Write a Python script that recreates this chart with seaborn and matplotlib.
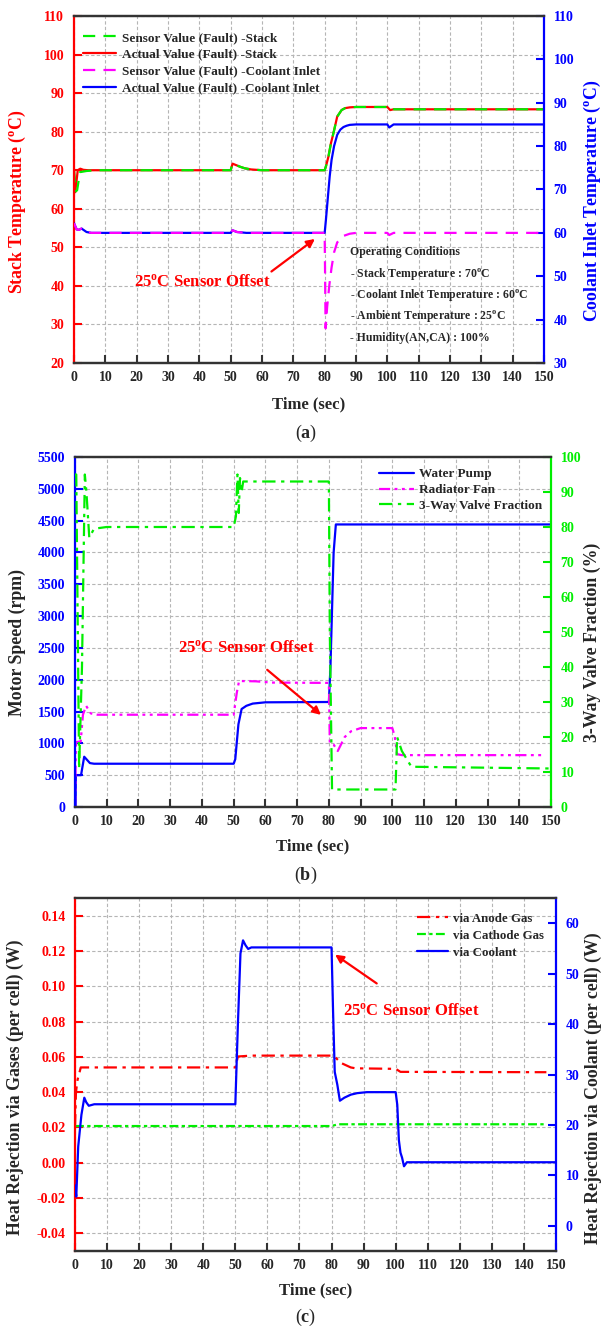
import matplotlib
matplotlib.use("Agg")
import matplotlib.pyplot as plt
import seaborn as sns

sns.set_style("ticks")
plt.rcParams['font.family'] = ['Liberation Serif', 'DejaVu Serif']
plt.rcParams['font.weight'] = 'bold'
plt.rcParams['axes.labelweight'] = 'bold'
plt.rcParams['axes.unicode_minus'] = False
plt.rcParams['mathtext.fontset'] = 'custom'
plt.rcParams['mathtext.rm'] = 'Liberation Serif:bold'
plt.rcParams['mathtext.bf'] = 'Liberation Serif:bold'
plt.rcParams['mathtext.it'] = 'Liberation Serif:italic:bold'

RED, GREEN, MAG, BLUE, DARK = '#ff0000', '#00ee00', '#ff00ff', '#0000ff', '#333333'
DEG = r'$^{\mathrm{o}}$'

###################### (a) temperatures ######################
t_stack_act = [0, 0.4, 1.2, 2.0, 3.0, 4.5, 50, 50.6, 51.5, 53, 54.5, 56.5, 60, 80, 80.4, 81.2, 82.0,
               82.8, 84.0, 85.4, 86.5, 88, 90, 100, 100.9, 102, 150]
stack_act = [70, 64.3, 70, 70.4, 70.1, 70, 70, 71.7, 71.4, 70.9, 70.5, 70.2, 70, 70, 71, 73.5, 77,
             79.6, 83.9, 85.6, 86.1, 86.3, 86.4, 86.4, 85.6, 85.8, 85.8]
t_stack_sen = [0, 0.5, 1.0, 1.9, 4, 7, 50, 50.6, 51.5, 53, 54.5, 56.5, 60, 80, 80.4, 81.2, 82.0,
               82.8, 84.0, 85.4, 86.5, 88, 90, 100, 100.9, 102, 150]
stack_sen = [70, 64.5, 64.8, 69.5, 69.8, 70, 70, 71.7, 71.4, 70.9, 70.5, 70.2, 70, 70, 71, 73.5, 77,
             79.6, 83.9, 85.6, 86.1, 86.3, 86.4, 86.4, 85.6, 85.8, 85.8]
t_cool_act = [0, 0.85, 1.6, 2.4, 4, 5.5, 50, 50.6, 52, 55, 80, 80.4, 81, 81.6, 82.2, 83, 84, 85, 86,
              87, 88, 90, 100, 100.6, 101.2, 102, 150]
cool_act = [62.2, 60.8, 60.7, 61.0, 60.2, 60, 60, 60.6, 60.2, 60, 60, 63, 68, 73, 76.8, 80, 82.6,
            83.8, 84.4, 84.7, 84.9, 85, 85, 84.3, 84.6, 85, 85]
t_cool_sen = [0, 0.85, 1.6, 2.4, 4, 5.5, 50, 50.6, 52, 55, 80, 80.3, 80.8, 81.5, 82.2, 83, 84, 86,
              88, 90, 100, 100.6, 102, 150]
cool_sen = [62.2, 60.8, 60.7, 61.0, 60.2, 60, 60, 60.6, 60.2, 60, 60, 38, 43, 48, 52, 55.5, 57.8,
            59.3, 59.8, 60, 60, 59.5, 60, 60]
legend_a = ['Sensor Value (Fault) -Stack', 'Actual Value (Fault) -Stack',
            'Sensor Value (Fault) -Coolant Inlet', 'Actual Value (Fault) -Coolant Inlet']
conditions = ['Operating Conditions', '- Stack Temperature : 70' + DEG + 'C',
              '- Coolant Inlet Temperature : 60' + DEG + 'C', '- Ambient Temperature : 25' + DEG + 'C',
              '- Humidity(AN,CA) : 100%']
cond_y = [48.8, 43.1, 37.6, 32.2, 26.5]

###################### (b) actuators ######################
t_pump = [0, 0.2, 0.25, 1.9, 2.9, 4.7, 6, 50, 50.5, 51.5, 52.5, 54, 56, 60, 80, 80.5, 81.5, 82.2, 150]
pump = [0, 0, 500, 500, 790, 690, 680, 680, 750, 1300, 1540, 1590, 1625, 1645, 1650, 2200, 4000, 4440, 4440]
t_fan = [0, 0.3, 1.8, 2.5, 3.5, 5, 7, 50, 51, 51.7, 57, 62, 80, 80.3, 81.5, 82.8, 85, 87, 90, 100,
         100.8, 101.5, 103, 147]
fan = [0, 1020, 1030, 1450, 1590, 1470, 1450, 1450, 1800, 1980, 1975, 1955, 1950, 1000, 980, 880,
       1100, 1190, 1240, 1240, 1100, 830, 815, 815]
t_valve = [0, 0.4, 1.3, 2.2, 3.1, 3.6, 4.5, 6, 10, 50, 50.7, 51.2, 51.6, 52, 52.5, 53, 80, 80.3, 81,
           100.5, 101, 101.5, 103, 106, 150]
valve = [95, 95, 11, 40, 95, 90, 77, 79.5, 80, 80, 83, 95, 84, 94, 90, 93, 93, 50, 5, 5, 5, 20, 16, 11.5, 11]
legend_b = ['Water Pump', 'Radiator Fan', '3-Way Valve Fraction']

###################### (c) heat rejection ######################
t_anode = [0, 0.3, 0.8, 1.8, 50, 50.8, 55, 80, 81, 83, 86, 87.5, 100, 101.5, 147]
anode = [0.02, 0.04, 0.047, 0.054, 0.054, 0.0602, 0.0607, 0.0607, 0.06, 0.0565, 0.054, 0.0535,
         0.0532, 0.0515, 0.0513]
t_cathode = [0, 80, 82, 147]
cathode = [0.0208, 0.0208, 0.0218, 0.0218]
t_coolant = [0, 0.4, 1.0, 2.0, 2.9, 3.5, 4.3, 6, 50, 50.8, 51.6, 52.4, 53.2, 54, 55, 80, 80.5, 81,
             81.8, 82.6, 84, 86, 88, 91, 100, 100.5, 101, 101.5, 102, 102.6, 103.5, 150]
coolant = [8, 5.8, 15.7, 22, 25.4, 24.5, 23.8, 24.1, 24.1, 40, 54, 56.6, 55.6, 54.9, 55.2, 55.2, 42,
           30.5, 28, 24.8, 25.4, 26, 26.3, 26.5, 26.5, 24, 17, 14.5, 13.5, 11.8, 12.6, 12.6]
legend_c = ['via Anode Gas', 'via Cathode Gas', 'via Coolant']

time_ticks = list(range(0, 151, 10))
YLAB = 12.8


def line(ax, t, v, color, ls, label):
    sns.lineplot(x=t, y=v, ax=ax, color=color, linestyle=ls, lw=1.6, label=label,
                 estimator=None, sort=False, legend=False)


def style(ax, ax2, lcol, rcol):
    for a in (ax, ax2):
        for s in ('top', 'bottom'):
            a.spines[s].set_color(DARK)
            a.spines[s].set_linewidth(1.6)
    ax.spines['left'].set_color(lcol)
    ax.spines['left'].set_linewidth(1.6)
    ax.spines['right'].set_visible(False)
    ax2.spines['left'].set_visible(False)
    ax2.spines['right'].set_color(rcol)
    ax2.spines['right'].set_linewidth(1.6)
    ax.tick_params(axis='y', direction='in', length=6, width=1.5, color=lcol, labelcolor=lcol,
                   labelsize=10, pad=7)
    ax.tick_params(axis='x', direction='in', length=6, width=1.5, color=DARK, labelsize=10, pad=6)
    ax2.tick_params(axis='y', direction='in', length=6, width=1.5, color=rcol, labelcolor=rcol,
                    labelsize=10, pad=7)
    ax.set_xlim(0, 150)
    ax.set_xticks(time_ticks)
    ax.grid(True, color='#b5b5b5', ls=(0, (3, 2)), lw=0.8)
    ax.set_axisbelow(True)
    ax.set_xlabel('Time (sec)', fontsize=12)


fig = plt.figure(figsize=(6.03, 13.29), dpi=100)

# ---------------- (a) ----------------
ax = fig.add_axes([74/603, 1-363/1329, 470/603, 347/1329])
ax2 = ax.twinx()
line(ax, t_stack_act, stack_act, RED, '-', legend_a[1])
line(ax, t_stack_sen, stack_sen, GREEN, (0, (5.5, 3.7)), legend_a[0])
line(ax2, t_cool_act, cool_act, BLUE, '-', legend_a[3])
line(ax2, t_cool_sen, cool_sen, MAG, (0, (5.5, 3.7)), legend_a[2])
style(ax, ax2, RED, BLUE)
ax.set_ylim(20, 110)
ax.set_yticks(range(20, 111, 10))
ax2.set_ylim(30, 110)
ax2.set_yticks(range(30, 111, 10))
ax.set_ylabel('Stack Temperature (' + DEG + 'C)', color=RED, fontsize=YLAB)
ax2.set_ylabel('Coolant Inlet Temperature (' + DEG + 'C)', color=BLUE, fontsize=YLAB, rotation=90)
ax.yaxis.set_label_coords(-0.098, 0.466)
ax2.yaxis.set_label_coords(1.081, 0.466)
ax.xaxis.set_label_coords(0.5, -0.095)
hl = {h.get_label(): h for h in ax.get_lines() + ax2.get_lines()}
ax2.legend([hl[k] for k in legend_a], legend_a, loc='upper left', bbox_to_anchor=(0.02, 0.955),
           frameon=False, fontsize=9.5, handlelength=2.5, handletextpad=0.4, labelspacing=0.35,
           borderpad=0, borderaxespad=0)
for txt, yy in zip(conditions, cond_y):
    ax.text(88.1, yy, txt, fontsize=8.5, va='center', ha='left')
ax.text(41, 41, '25' + DEG + 'C Sensor Offset', color=RED, fontsize=12, ha='center', va='center')
ax.annotate('', xy=(77.6, 52.6), xytext=(62.3, 43.3),
            arrowprops=dict(arrowstyle='-|>', color=RED, lw=1.6, mutation_scale=12))
fig.text(306/603, 1-433/1329, r'($\mathbf{a}$)', ha='center', va='center', fontsize=13,
         fontweight='normal')

# ---------------- (b) ----------------
ax = fig.add_axes([75/603, 1-807/1329, 476/603, 350/1329])
ax2 = ax.twinx()
line(ax, t_pump, pump, BLUE, '-', legend_b[0])
line(ax, t_fan, fan, MAG, (0, (5, 2, 1.3, 2, 1.3, 2)), legend_b[1])
line(ax2, t_valve, valve, GREEN, (0, (6, 2.5, 1.5, 2.5)), legend_b[2])
style(ax, ax2, BLUE, GREEN)
ax.set_ylim(0, 5500)
ax.set_yticks(range(0, 5501, 500))
ax2.set_ylim(0, 100)
ax2.set_yticks(range(0, 101, 10))
ax.set_ylabel('Motor Speed (rpm)', fontsize=YLAB)
ax2.set_ylabel('3-Way Valve Fraction (%)', fontsize=YLAB, rotation=90)
ax.yaxis.set_label_coords(-0.103, 0.47)
ax2.yaxis.set_label_coords(1.069, 0.47)
ax.xaxis.set_label_coords(0.5, -0.09)
hl = {h.get_label(): h for h in ax.get_lines() + ax2.get_lines()}
ax2.legend([hl[k] for k in legend_b], legend_b, loc='upper right', bbox_to_anchor=(0.981, 0.968),
           frameon=False, fontsize=9.5, handlelength=2.6, handletextpad=0.4, labelspacing=0.27,
           borderpad=0, borderaxespad=0)
ax.text(54, 2500, '25' + DEG + 'C Sensor Offset', color=RED, fontsize=12, ha='center', va='center')
ax.annotate('', xy=(78.2, 1420), xytext=(59.9, 2184),
            arrowprops=dict(arrowstyle='-|>', color=RED, lw=1.6, mutation_scale=12))
fig.text(306/603, 1-875/1329, r'($\mathbf{b}$)', ha='center', va='center', fontsize=13,
         fontweight='normal')

# ---------------- (c) ----------------
ax = fig.add_axes([75/603, 1-1251/1329, 481/603, 353/1329])
ax2 = ax.twinx()
line(ax, t_anode, anode, RED, (0, (6, 2.5, 1.5, 2.5)), legend_c[0])
line(ax, t_cathode, cathode, GREEN, (0, (4, 1.5, 1.5, 1.5)), legend_c[1])
line(ax2, t_coolant, coolant, BLUE, '-', legend_c[2])
style(ax, ax2, RED, BLUE)
ax.set_ylim(-0.05, 0.15)
ax.set_yticks([-0.04, -0.02, 0.0, 0.02, 0.04, 0.06, 0.08, 0.10, 0.12, 0.14])
ax.yaxis.set_major_formatter(matplotlib.ticker.FormatStrFormatter('%.2f'))
ax2.set_ylim(-5, 65)
ax2.set_yticks(range(0, 61, 10))
ax.set_ylabel('Heat Rejection via Gases (per cell) (W)', fontsize=YLAB)
ax2.set_ylabel('Heat Rejection via Coolant (per cell) (W)', fontsize=YLAB, rotation=90)
ax.yaxis.set_label_coords(-0.106, 0.465)
ax2.yaxis.set_label_coords(1.059, 0.46)
ax.xaxis.set_label_coords(0.5, -0.09)
hl = {h.get_label(): h for h in ax.get_lines() + ax2.get_lines()}
ax2.legend([hl[k] for k in legend_c], legend_c, loc='upper right', bbox_to_anchor=(0.975, 0.958),
           frameon=False, fontsize=9.3, handlelength=2.4, handletextpad=0.4, labelspacing=0.37,
           borderpad=0, borderaxespad=0)
ax.text(105, 0.086, '25' + DEG + 'C Sensor Offset', color=RED, fontsize=12, ha='center', va='center')
ax.annotate('', xy=(80.4, 0.1188), xytext=(94.8, 0.1007),
            arrowprops=dict(arrowstyle='-|>', color=RED, lw=1.6, mutation_scale=12))
fig.text(306/603, 1-1317/1329, r'($\mathbf{c}$)', ha='center', va='center', fontsize=13,
         fontweight='normal')

fig.savefig('out.png', dpi=100)
